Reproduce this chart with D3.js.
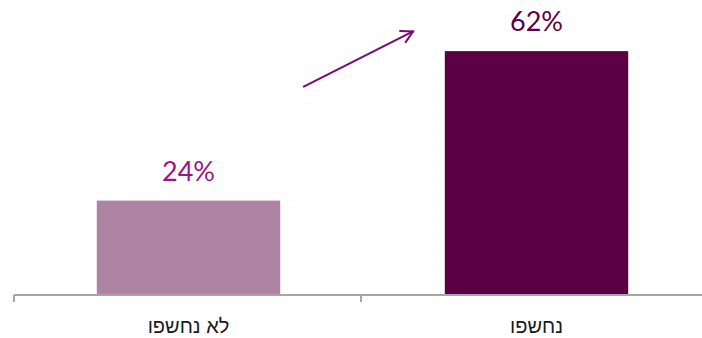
<!DOCTYPE html>
<html>
<head>
<meta charset="utf-8">
<script src="https://cdn.jsdelivr.net/npm/d3@7"></script>
<style>
  html, body { margin: 0; padding: 0; background: #fff; }
  svg { display: block; }
</style>
</head>
<body>
<svg id="chart" width="702" height="338"></svg>
<script>
const categories = ['לא נחשפו', 'נחשפו']
const values = [24, 62]
const valueLabels = ['24%', '62%']
const barColors = ['#ae82a3', '#5c0046']
const labelColors = ['#9a1585', '#5c0046']
// arrow annotation, in chart units: [category position (0..2), value %]
const arrowFrom = [0.835, 53]
const arrowTo = [1.15, 67]

const width = 702, height = 338
const svg = d3.select('#chart')

const x = d3.scaleBand().domain(categories).range([14.5, 710.5]).padding(0)
const xPos = d3.scaleLinear().domain([0, 2]).range([14, 708])
const y = d3.scaleLinear().domain([0, 75]).range([295, 0])
const barW = x.bandwidth() * 0.527

// very faint gridlines
svg.append('g')
  .selectAll('line')
  .data(d3.range(0, 76, 3.75))
  .join('line')
  .attr('x1', 0).attr('x2', width)
  .attr('y1', d => Math.round(y(d)) + 0.5).attr('y2', d => Math.round(y(d)) + 0.5)
  .attr('stroke', '#fcfcfc')

svg.append('g')
  .selectAll('rect')
  .data(values)
  .join('rect')
  .attr('x', (d, i) => x(categories[i]) + (x.bandwidth() - barW) / 2)
  .attr('y', d => y(d))
  .attr('width', barW)
  .attr('height', d => y(0) - y(d))
  .attr('fill', (d, i) => barColors[i])

// axis
const axis = svg.append('g')
axis.append('line')
  .attr('x1', 14).attr('x2', width)
  .attr('y1', y(0)).attr('y2', y(0))
  .attr('stroke', '#a6a6a6').attr('stroke-width', 2)
axis.selectAll('.tick')
  .data([0, 1])
  .join('line')
  .attr('class', 'tick')
  .attr('x1', d => xPos(d)).attr('x2', d => xPos(d))
  .attr('y1', y(0)).attr('y2', y(0) + 7)
  .attr('stroke', '#a6a6a6').attr('stroke-width', 2)

axis.selectAll('.cat')
  .data(categories)
  .join('text')
  .attr('class', 'cat')
  .attr('x', d => x(d) + x.bandwidth() / 2)
  .attr('y', 333)
  .attr('text-anchor', 'middle')
  .attr('direction', 'rtl')
  .style('font-family', "'Liberation Sans', Arial, 'DejaVu Sans', sans-serif")
  .style('font-size', '20px')
  .attr('fill', '#1a1a1a')
  .text(d => d)

svg.append('g')
  .selectAll('text')
  .data(values)
  .join('text')
  .attr('x', (d, i) => x(categories[i]) + x.bandwidth() / 2)
  .attr('y', d => y(d) - 20)
  .attr('text-anchor', 'middle')
  .style('font-family', "Lato, 'Open Sans', sans-serif")
  .style('font-size', '27px')
  .attr('fill', (d, i) => labelColors[i])
  .text((d, i) => valueLabels[i])

// arrow
const ax1 = xPos(arrowFrom[0]), ay1 = y(arrowFrom[1])
const ax2 = xPos(arrowTo[0]), ay2 = y(arrowTo[1])
const ang = Math.atan2(ay2 - ay1, ax2 - ax1)
const head = 13
const arrowColor = '#7a0a6b'
const g = svg.append('g').attr('stroke', arrowColor).attr('stroke-width', 2).attr('fill', 'none').attr('stroke-linecap', 'round')
g.append('line').attr('x1', ax1).attr('y1', ay1).attr('x2', ax2).attr('y2', ay2)
g.append('path')
  .attr('d', d3.line()([
    [ax2 - head * Math.cos(ang - 0.5), ay2 - head * Math.sin(ang - 0.5)],
    [ax2, ay2],
    [ax2 - head * Math.cos(ang + 0.5), ay2 - head * Math.sin(ang + 0.5)]
  ]))
</script>
</body>
</html>
